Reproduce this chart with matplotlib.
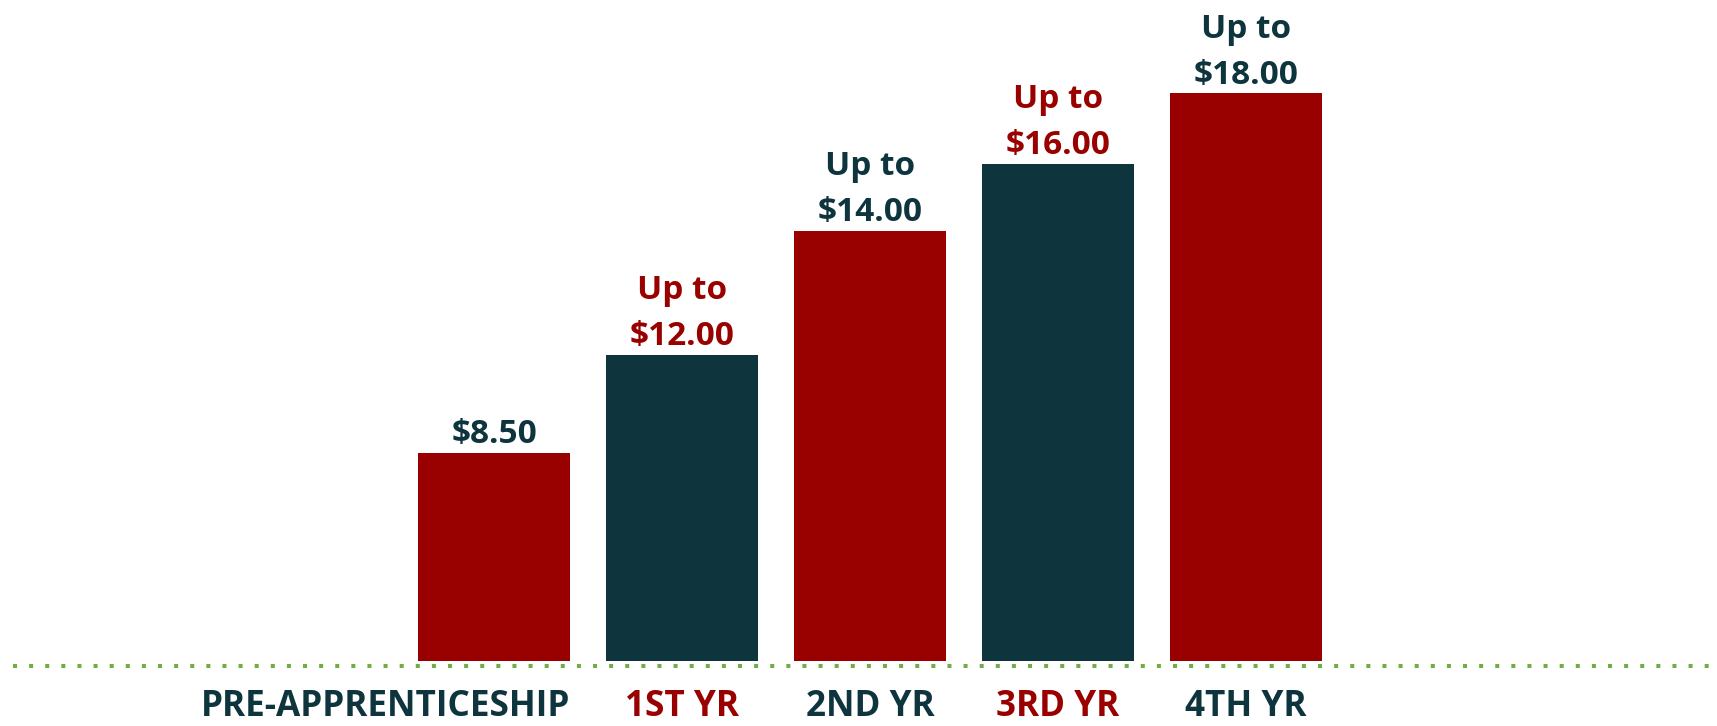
import matplotlib
matplotlib.use("Agg")
import matplotlib.pyplot as plt

categories = ["PRE-APPRENTICESHIP", "1ST YR", "2ND YR", "3RD YR", "4TH YR"]
bar_heights = [8.5, 12.51, 17.60, 20.33, 23.22]
value_labels = ["$8.50", "Up to\n$12.00", "Up to\n$14.00", "Up to\n$16.00", "Up to\n$18.00"]

RED = "#990000"
TEAL = "#0E343E"
GREEN = "#70AD47"
bar_colors = [RED, TEAL, RED, TEAL, RED]
label_colors = [TEAL, RED, TEAL, RED, TEAL]
cat_colors = [TEAL, RED, TEAL, RED, TEAL]

W, H, DPI = 1717, 726, 100
fig = plt.figure(figsize=(W / DPI, H / DPI), dpi=DPI)
ax = fig.add_axes([0, 0, 1, 1])

px_x = 188.0
px_y = 24.43
x0_px = 494.0
base_px = H - 660.7
ax.set_xlim(-x0_px / px_x, (W - x0_px) / px_x)
ax.set_ylim(-base_px / px_y, (H - base_px) / px_y)
ax.axis("off")

FONT = "Open Sans"
width = 152 / 188
xs = list(range(len(categories)))
ax.bar(xs, bar_heights, width=width, color=bar_colors, zorder=2)

for x, h, lab, c in zip(xs, bar_heights, value_labels, label_colors):
    ax.annotate(lab, (x, h), xytext=(0, 1.3), textcoords="offset points",
                ha="center", va="bottom", fontsize=24, fontweight="bold",
                color=c, family=FONT, linespacing=1.52)

# dotted baseline
y_line = -5.0 / px_y
ax.plot([ax.get_xlim()[0] + 13 / px_x, ax.get_xlim()[1]], [y_line, y_line],
        color=GREEN, linewidth=2.9, linestyle=(0, (1, 3)),
        solid_capstyle="butt", dash_capstyle="butt", zorder=1)

# category labels
y_lab = -(707 - 660.7) / px_y
for i, (x, cat, c) in enumerate(zip(xs, categories, cat_colors)):
    if i == 0:
        ax.text(x + width / 2, y_lab, cat, ha="right", va="center", fontsize=25.3,
                fontweight="bold", color=c, family=FONT)
    else:
        ax.text(x, y_lab, cat, ha="center", va="center", fontsize=25.3,
                fontweight="bold", color=c, family=FONT)

fig.savefig("out.png", dpi=DPI, facecolor="white")
